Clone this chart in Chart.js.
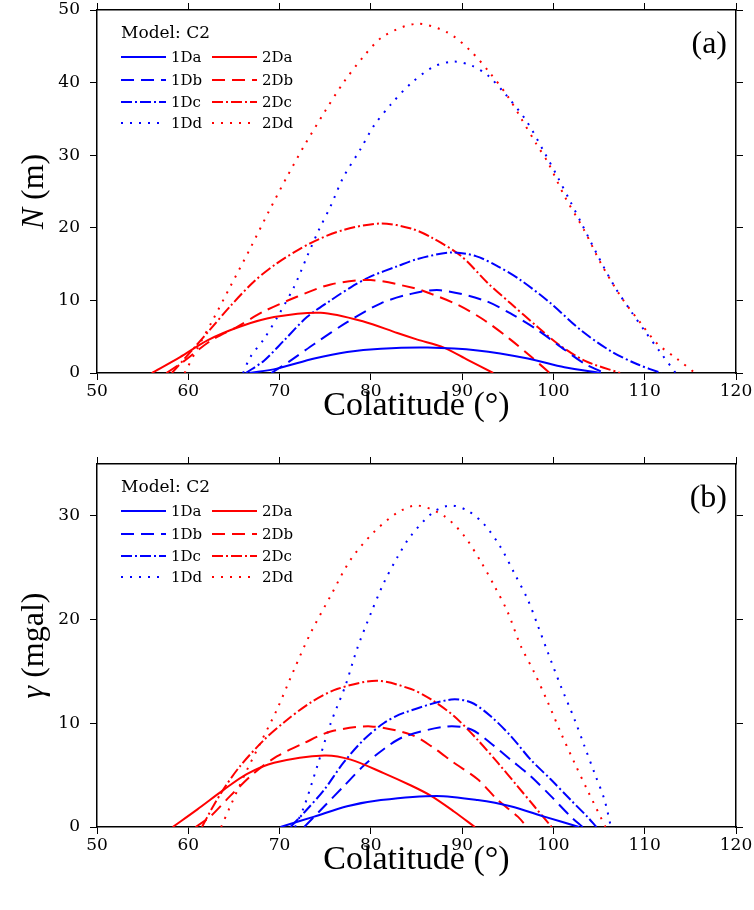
<!DOCTYPE html>
<html>
<head>
<meta charset="utf-8">
<script src="https://cdn.jsdelivr.net/npm/chart.js@4.4.1/dist/chart.umd.min.js"></script>
<style>
  html, body { margin: 0; padding: 0; background: #fff; }
  .panel { position: relative; width: 754px; height: 455px; }
</style>
</head>
<body>
<div class="panel"><canvas id="chart-n" width="754" height="455"></canvas></div>
<div class="panel"><canvas id="chart-g" width="754" height="455"></canvas></div>
<script>
// series names, same order in both panels
const seriesNames = ['1Da', '2Da', '1Db', '2Db', '1Dc', '2Dc', '1Dd', '2Dd'];
const colatTicks = [50, 60, 70, 80, 90, 100, 110, 120];

// panel (a): geoid height N (m) vs colatitude, [colat, N]
const n1Da = [[66.7,0],[69.7,0.6],[73.8,2.0],[77.4,2.9],[81.1,3.35],[86.2,3.5],[91.7,3.1],[97.2,2.0],[101.2,0.8],[105.2,0]];
const n2Da = [[56.0,0],[59.1,2.2],[62.1,4.5],[65.7,6.4],[69.4,7.7],[74.5,8.3],[79.2,7.1],[82.9,5.5],[85.1,4.6],[88.0,3.5],[90.6,1.8],[93.4,0]];
const n1Db = [[69.1,0],[71.2,1.7],[73.8,4.0],[77.4,7.0],[81.1,9.6],[84.4,10.9],[87.6,11.4],[92.4,10.0],[95.3,8.2],[98.3,5.9],[100.8,3.6],[103.4,1.3],[105.6,0]];
const n2Db = [[57.6,0],[59.5,1.6],[62.4,4.4],[65.4,6.4],[68.3,8.5],[71.9,10.5],[75.6,12.2],[80.0,12.8],[84.7,11.7],[86.6,10.9],[89.5,9.4],[92.4,7.3],[95.3,4.6],[97.5,2.3],[99.6,0]];
const n1Dc = [[66.3,0],[68.3,1.7],[70.5,4.5],[73.0,7.7],[75.6,10.0],[77.8,11.8],[80.0,13.3],[82.9,14.7],[85.1,15.7],[88.8,16.6],[91.5,16.1],[93.9,14.7],[96.4,12.8],[99.7,9.6],[103.0,5.9],[106.3,3.0],[109.2,1.2],[111.8,0]];
const n2Dc = [[58.2,0],[60.6,3.4],[62.4,6.0],[64.6,9.2],[67.2,12.6],[69.7,15.1],[73.4,17.9],[77.0,19.7],[81.1,20.6],[84.4,19.9],[86.6,18.7],[89.9,16.1],[92.8,12.4],[95.3,9.6],[98.3,6.3],[100.5,4.0],[103.4,1.7],[107.3,0]];
const n1Dd = [[66.0,0],[66.8,2.2],[68.3,4.7],[69.9,8.0],[71.6,11.9],[73.0,16.0],[74.3,19.7],[75.6,23.0],[77.0,27.0],[78.9,30.9],[80.3,34.0],[82.2,37.0],[84.4,39.9],[86.9,42.2],[89.1,42.9],[91.1,42.3],[92.8,41.0],[94.6,38.6],[97.0,34.8],[99.0,30.4],[100.5,26.9],[101.9,23.5],[103.0,20.8],[104.8,16.3],[106.7,11.9],[108.5,8.5],[110.0,5.8],[111.8,2.7],[113.4,0]];
const n2Dd = [[59.6,0],[61.0,3.4],[62.6,7.1],[64.6,11.9],[66.8,17.2],[68.8,22.2],[70.8,27.0],[72.7,31.3],[74.9,35.9],[77.0,40.0],[79.2,43.6],[81.4,46.4],[85.0,48.1],[88.4,46.9],[90.9,44.4],[93.0,41.4],[95.0,38.1],[96.4,35.2],[98.1,31.6],[99.4,29.0],[101.2,24.4],[103.4,19.6],[105.2,15.1],[107.4,10.5],[109.6,6.8],[111.4,4.0],[113.6,1.9],[115.5,0]];
const nTicks = [0, 10, 20, 30, 40, 50];

// panel (b): gravity anomaly gamma (mgal) vs colatitude, [colat, gamma]
const g1Da = [[70.1,0],[73.8,1.0],[77.4,2.0],[81.1,2.6],[87.2,3.0],[91.7,2.6],[95.3,2.0],[99.0,1.0],[102.8,0]];
const g2Da = [[58.3,0],[61.0,1.7],[63.9,3.6],[66.4,5.1],[69.4,6.2],[74.9,6.9],[77.8,6.5],[81.4,5.2],[84.4,4.0],[86.6,3.0],[89.1,1.5],[91.4,0]];
const g1Db = [[72.7,0],[74.9,2.0],[77.0,3.9],[79.2,5.9],[81.4,7.5],[83.6,8.7],[88.4,9.7],[91.0,9.4],[93.1,8.1],[95.3,6.5],[97.5,4.9],[99.7,3.0],[101.9,1.0],[103.2,0]];
const g2Db = [[60.8,0],[62.4,1.0],[64.6,3.0],[67.2,5.2],[69.7,6.8],[72.7,8.1],[75.6,9.2],[80.0,9.7],[84.4,8.9],[86.6,7.8],[89.1,6.2],[91.7,4.6],[93.9,2.6],[96.1,1.0],[97.1,0]];
const g1Dc = [[71.2,0],[72.7,1.4],[74.9,3.6],[77.0,6.2],[79.2,8.4],[81.4,10.0],[83.6,11.0],[88.8,12.3],[91.0,12.0],[93.1,10.7],[95.3,8.8],[97.5,6.5],[99.7,4.6],[101.9,2.6],[103.7,1.0],[104.7,0]];
const g2Dc = [[61.5,0],[62.6,1.8],[63.9,3.7],[65.7,5.9],[68.3,8.4],[70.5,10.1],[73.4,12.0],[76.3,13.3],[80.6,14.1],[84.4,13.3],[86.6,12.3],[89.1,10.7],[91.7,8.4],[93.9,6.2],[96.1,3.9],[97.9,2.0],[99.8,0]];
const g1Dd = [[71.7,0],[72.7,2.0],[74.1,5.8],[75.6,10.0],[77.2,13.6],[78.5,17.2],[80.0,20.6],[81.4,23.5],[82.9,26.0],[84.4,28.1],[86.9,30.4],[88.8,31.0],[90.6,30.5],[92.4,29.2],[94.2,27.0],[95.7,24.5],[97.2,21.9],[98.3,19.4],[99.4,16.8],[100.8,13.6],[102.3,10.4],[103.4,7.8],[104.5,5.2],[105.6,2.6],[106.3,0]];
const g2Dd = [[63.6,0],[64.6,2.0],[66.1,4.9],[67.9,8.1],[69.7,11.3],[71.6,15.2],[73.4,18.7],[75.6,22.3],[77.8,25.8],[80.3,28.4],[82.9,30.3],[85.1,31.0],[88.0,30.0],[90.2,28.1],[92.1,25.5],[93.5,23.3],[95.0,20.7],[96.4,17.5],[97.9,14.9],[99.4,12.0],[100.8,9.1],[102.3,6.2],[103.7,3.6],[105.7,0]];
const gTicks = [0, 10, 20, 30];

// line looks, keyed by the letter after "1D"/"2D"
const DASHES = { a: [], b: [13, 7], c: [11, 3, 2, 3], d: [2, 7] };
const TICK_FONT = { family: 'DejaVu Serif', size: 17 };
const TITLE_FONT = '"Liberation Serif", serif';

function toDatasets(list) {
    return list.map((pts, i) => {
        const name = seriesNames[i];
        return {
            label: name,
            data: pts.map(p => ({ x: p[0], y: p[1] })),
            borderColor: name[0] === '1' ? '#0000ff' : '#ff0000',
            borderDash: DASHES[name[2]],
            borderWidth: 2,
            borderCapStyle: 'butt',
            pointRadius: 0,
            fill: false,
            tension: 0.3
        };
    });
}

// titles, legend and panel tag
const decor = {
    id: 'decor',
    afterDraw(chart, args, o) {
        const { ctx, chartArea: a } = chart;
        ctx.save();
        ctx.fillStyle = '#000';

        // x title
        ctx.font = `34px ${TITLE_FONT}`;
        ctx.textAlign = 'center';
        ctx.textBaseline = 'middle';
        ctx.fillText('Colatitude (°)', (a.left + a.right) / 2, a.bottom + 33);

        // y title, first part italic
        ctx.save();
        ctx.translate(35, (a.top + a.bottom) / 2);
        ctx.rotate(-Math.PI / 2);
        const fonts = [`italic 32px ${TITLE_FONT}`, `32px ${TITLE_FONT}`];
        let total = 0;
        o.yTitle.forEach((t, i) => { ctx.font = fonts[i]; total += ctx.measureText(t).width; });
        let x = -total / 2;
        ctx.textAlign = 'left';
        o.yTitle.forEach((t, i) => { ctx.font = fonts[i]; ctx.fillText(t, x, 0); x += ctx.measureText(t).width; });
        ctx.restore();

        // panel tag
        ctx.font = `32px ${TITLE_FONT}`;
        ctx.textAlign = 'right';
        ctx.fillText(o.tag, a.right - 9, a.top + 35);

        // legend
        ctx.textAlign = 'left';
        ctx.font = '17px "DejaVu Serif"';
        ctx.fillText('Model: C2', a.left + 24, a.top + 24);
        ctx.font = '15px "DejaVu Serif"';
        const rows = [47, 70, 92, 113];
        chart.data.datasets.forEach((ds, i) => {
            const col = i % 2, row = Math.floor(i / 2);
            const x0 = a.left + 24 + col * 91, y0 = a.top + rows[row];
            ctx.save();
            ctx.strokeStyle = ds.borderColor;
            ctx.lineWidth = 2;
            ctx.setLineDash(ds.borderDash);
            ctx.beginPath();
            ctx.moveTo(x0, y0);
            ctx.lineTo(x0 + 45, y0);
            ctx.stroke();
            ctx.restore();
            ctx.fillText(ds.label, x0 + 50, y0 + 1);
        });
        ctx.restore();
    }
};

function makePanel(id, series, yTicks, yMax, yTitle, tag, padTop, xHeight) {
    const keepTicks = vals => s => { s.ticks = s.ticks.filter(t => vals.includes(t.value)); };
    // fixed box sizes, no label overhang padding
    const fixSize = (dim, v) => s => {
        s[dim] = v;
        s.paddingTop = 0; s.paddingBottom = 0; s.paddingLeft = 0; s.paddingRight = 0;
    };
    const frame = { display: true, color: '#000', width: 1.5 };
    const marks = { display: true, drawOnChartArea: false, drawTicks: true, tickLength: 7, color: '#000', tickColor: '#000', tickWidth: 1 };
    new Chart(document.getElementById(id), {
        type: 'line',
        data: { datasets: toDatasets(series) },
        options: {
            responsive: false,
            animation: false,
            devicePixelRatio: 1,
            layout: { padding: { top: padTop, right: 11, left: 0, bottom: 0 } },
            plugins: { legend: { display: false }, tooltip: { enabled: false }, decor: { yTitle, tag } },
            scales: {
                x: {
                    type: 'linear', position: 'bottom', min: 50, max: 120,
                    border: frame, grid: marks,
                    ticks: { stepSize: 10, color: '#000', font: TICK_FONT, padding: 1, maxRotation: 0 },
                    afterBuildTicks: keepTicks(colatTicks),
                    afterFit: fixSize('height', xHeight)
                },
                xTop: {
                    type: 'linear', position: 'top', min: 50, max: 120,
                    border: frame, grid: marks,
                    ticks: { stepSize: 10, display: false },
                    afterBuildTicks: keepTicks(colatTicks),
                    afterFit: fixSize('height', 7)
                },
                y: {
                    type: 'linear', position: 'left', min: 0, max: yMax,
                    border: frame, grid: marks,
                    ticks: { stepSize: 10, color: '#000', font: TICK_FONT, padding: 10 },
                    afterBuildTicks: keepTicks(yTicks),
                    afterFit: fixSize('width', 97)
                },
                yRight: {
                    type: 'linear', position: 'right', min: 0, max: yMax,
                    border: frame, grid: marks,
                    ticks: { stepSize: 10, display: false },
                    afterBuildTicks: keepTicks(yTicks),
                    afterFit: fixSize('width', 7)
                }
            }
        },
        plugins: [decor]
    });
}

makePanel('chart-n', [n1Da, n2Da, n1Db, n2Db, n1Dc, n2Dc, n1Dd, n2Dd], nTicks, 50, ['N', ' (m)'], '(a)', 3, 82);
makePanel('chart-g', [g1Da, g2Da, g1Db, g2Db, g1Dc, g2Dc, g1Dd, g2Dd], gTicks, 35, ['γ', ' (mgal)'], '(b)', 2, 83);
</script>
</body>
</html>
